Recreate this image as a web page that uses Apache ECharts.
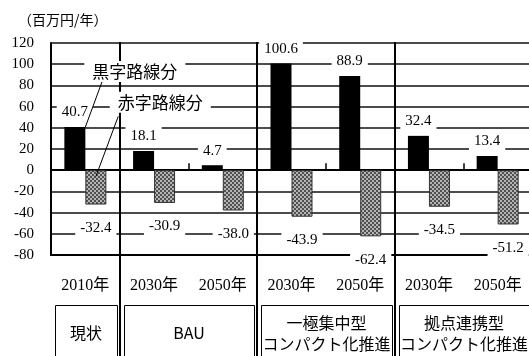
<!DOCTYPE html>
<html>
<head>
<meta charset="utf-8">
<script src="https://cdn.jsdelivr.net/npm/echarts@6/dist/echarts.min.js"></script>
<style>
  html, body { margin: 0; padding: 0; background: #fff; }
  #chart { width: 529px; height: 356px; }
</style>
</head>
<body>
<div id="chart"></div>
<script>
  // data
  var years = ['2010年', '2030年', '2050年', '2030年', '2050年', '2030年', '2050年'];
  var blackValues = [40.7, 18.1, 4.7, 100.6, 88.9, 32.4, 13.4];   // 黒字路線分
  var redValues = [-32.4, -30.9, -38.0, -43.9, -62.4, -34.5, -51.2]; // 赤字路線分
  var groupNames = ['現状', 'BAU', '一極集中型\nコンパクト化推進', '拠点連携型\nコンパクト化推進'];
  var groupStarts = [0, 1, 3, 5];
  var groupSizes = [1, 2, 2, 2];
  var yMin = -80, yMax = 120, yStep = 20;

  var serif = "'Liberation Serif', 'Noto Sans CJK JP', serif";
  var jp = "'Noto Sans CJK JP', sans-serif";

  // small checker tile for the 赤字 bars
  function checker() {
    var c = document.createElement('canvas');
    c.width = 4; c.height = 4;
    var ctx = c.getContext('2d');
    ctx.fillStyle = '#505050';
    ctx.fillRect(0, 0, 4, 4);
    ctx.fillStyle = '#b4b4b4';
    ctx.fillRect(0, 0, 2, 2);
    ctx.fillRect(2, 2, 2, 2);
    return c;
  }

  var labelStyle = {
    show: true,
    fontFamily: serif,
    fontSize: 15,
    lineHeight: 15,
    color: '#000',
    backgroundColor: '#fff',
    padding: [3, 5],
    formatter: function (p) { return p.value.toFixed(1); }
  };

  var chart = echarts.init(document.getElementById('chart'));

  var option = {
    animation: false,
    title: {
      text: '（百万円/年）',
      left: 13,
      top: 8,
      textStyle: { fontSize: 14, fontWeight: 'normal', color: '#000', fontFamily: jp }
    },
    grid: { left: 51, top: 43, width: 481, height: 212, outerBoundsMode: 'none' },
    xAxis: [
      {
        type: 'category',
        data: years,
        axisLine: { onZero: true, lineStyle: { color: '#000', width: 2 } },
        axisTick: {
          show: true, inside: true, length: 7,
          interval: function (i) { return i === 2 || i === 4 || i === 6; },
          lineStyle: { color: '#000', width: 1.5 }
        },
        axisLabel: { show: false },
        splitLine: { show: false }
      },
      {
        type: 'category',
        data: years,
        position: 'bottom',
        axisLine: { onZero: false, lineStyle: { color: '#000', width: 2 } },
        axisTick: { show: false },
        axisLabel: { interval: 0, margin: 23, fontSize: 16, color: '#000', fontFamily: serif },
        splitLine: { show: false }
      }
    ],
    yAxis: {
      type: 'value',
      min: yMin,
      max: yMax,
      interval: yStep,
      axisLine: { show: true, lineStyle: { color: '#000', width: 2 } },
      axisTick: { show: false },
      axisLabel: { margin: 17, fontSize: 15, color: '#000', fontFamily: serif },
      splitLine: { lineStyle: { color: '#111', width: 1.5 } }
    },
    series: [
      {
        name: '黒字路線分',
        type: 'bar',
        barWidth: 21,
        barGap: '0%',
        itemStyle: { color: '#000' },
        label: Object.assign({}, labelStyle, { position: 'top', distance: 4 }),
        data: blackValues
      },
      {
        name: '赤字路線分',
        type: 'bar',
        barWidth: 21,
        barGap: '0%',
        itemStyle: {
          color: { image: checker(), repeat: 'repeat' },
          borderColor: '#333',
          borderWidth: 1
        },
        label: Object.assign({}, labelStyle, { position: 'bottom', distance: 13 }),
        data: redValues
      }
    ]
  };

  chart.setOption(option);

  function px(i, v) { return chart.convertToPixel({ gridIndex: 0 }, [i, v]); }
  var band = px(1, 0)[0] - px(0, 0)[0];
  var topY = px(0, yMax)[1];
  var boxTop = 305;

  var els = [];
  // group separators
  for (var g = 1; g < groupStarts.length; g++) {
    var sx = Math.round(px(groupStarts[g], 0)[0] - band / 2);
    els.push({ type: 'line', z: 90, shape: { x1: sx, y1: topY - 1, x2: sx, y2: 370 },
      style: { stroke: '#000', lineWidth: 2 } });
  }
  // group boxes
  for (var k = 0; k < groupNames.length; k++) {
    var bx0 = Math.round(px(groupStarts[k], 0)[0] - band / 2) + 4;
    var bx1 = Math.round(px(groupStarts[k] + groupSizes[k] - 1, 0)[0] + band / 2) - 3;
    els.push({ type: 'rect', z: 90, shape: { x: bx0 + 0.5, y: boxTop + 0.5, width: bx1 - bx0, height: 80 },
      style: { fill: '#fff', stroke: '#000', lineWidth: 1 } });
    els.push({ type: 'text', z: 91, style: {
      text: groupNames[k], x: (bx0 + bx1) / 2, y: 333, align: 'center', verticalAlign: 'middle',
      fontSize: 16, lineHeight: 21, fontFamily: jp, fill: '#000' } });
  }
  // legend callouts
  var blackTop = px(0, blackValues[0]);
  var redIn = px(0, -6);
  var lg1 = [px(0, 93)[0] + 0.72 * band, px(0, 93)[1]];
  var lg2 = [px(0, 64)[0] + 1.09 * band, px(0, 64)[1]];
  els.push({ type: 'line', z: 95, shape: { x1: lg1[0] - 32, y1: lg1[1] + 8, x2: blackTop[0], y2: blackTop[1] },
    style: { stroke: '#000', lineWidth: 1 } });
  els.push({ type: 'line', z: 95, shape: { x1: lg2[0] - 42, y1: lg2[1] + 14, x2: redIn[0] + 10.5, y2: redIn[1] },
    style: { stroke: '#000', lineWidth: 1 } });
  els.push({ type: 'text', z: 96, style: {
    text: '黒字路線分', x: lg1[0], y: lg1[1], align: 'center', verticalAlign: 'middle',
    fontSize: 17, fontFamily: jp, fill: '#000', backgroundColor: '#fff', padding: [2, 8] } });
  els.push({ type: 'text', z: 96, style: {
    text: '赤字路線分', x: lg2[0], y: lg2[1], align: 'center', verticalAlign: 'middle',
    fontSize: 17, fontFamily: jp, fill: '#000', backgroundColor: '#fff', padding: [2, 8] } });

  chart.setOption({ graphic: { elements: els } });
</script>
</body>
</html>
